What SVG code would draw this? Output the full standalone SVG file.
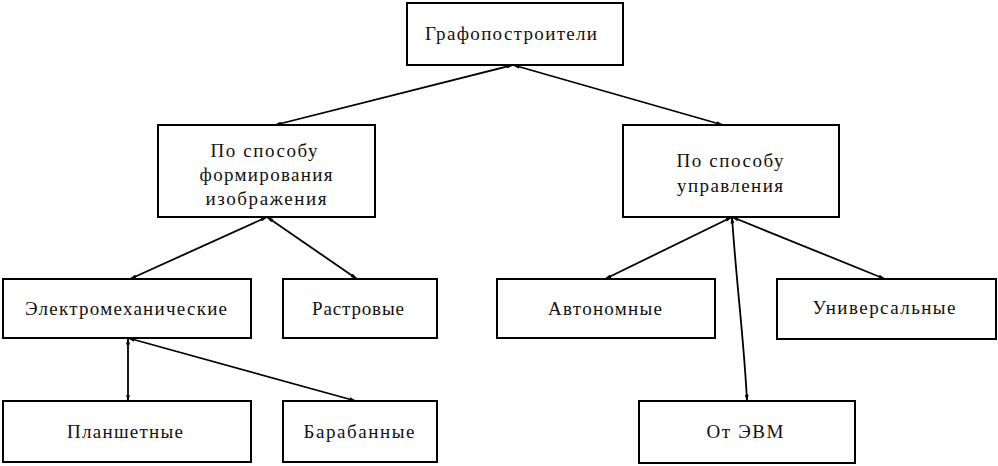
<svg xmlns="http://www.w3.org/2000/svg" width="998" height="466" viewBox="0 0 998 466">
<style>
.box{fill:#fff;stroke:#000;stroke-width:2}
.t{font-size:19px;fill:#111;text-anchor:middle}
.c{fill:none;stroke:#000;stroke-width:1.8;marker-start:url(#ah);marker-end:url(#ah)}
</style>
<defs>
<marker id="ah" markerUnits="userSpaceOnUse" markerWidth="7" markerHeight="4" refX="6.5" refY="2" orient="auto-start-reverse">
<path d="M0,0 L7,2 L0,4 z" fill="#000"/>
</marker>
</defs>
<rect width="998" height="466" fill="#fff"/>
<g id="connectors">
<line class="c" x1="513" y1="65" x2="275" y2="125"/>
<line class="c" x1="513" y1="65" x2="723" y2="125"/>
<line class="c" x1="267" y1="217" x2="130" y2="279"/>
<line class="c" x1="267" y1="217" x2="357" y2="279"/>
<line class="c" x1="732" y1="217" x2="605" y2="279"/>
<line class="c" x1="732" y1="217" x2="885" y2="279"/>
<path class="c" d="M732,217 C737,290 744,340 747,401"/>
<line class="c" x1="128" y1="338" x2="128" y2="401"/>
<line class="c" x1="128" y1="338" x2="356" y2="401"/>
</g>
<g font-family="Liberation Serif, Times New Roman, DejaVu Serif, serif">
<g id="root">
<rect class="box" x="407" y="3" width="216" height="62"/>
<text class="t" x="511" y="40" textLength="172" lengthAdjust="spacing">Графопостроители</text>
</g>
<g id="formation">
<rect class="box" x="158" y="125" width="217" height="92"/>
<text class="t" x="264" y="157" textLength="107" lengthAdjust="spacing">По способу</text>
<text class="t" x="266" y="181" textLength="133" lengthAdjust="spacing">формирования</text>
<text class="t" x="266" y="205" textLength="121" lengthAdjust="spacing">изображения</text>
</g>
<g id="control">
<rect class="box" x="623" y="125" width="216" height="92"/>
<text class="t" x="730" y="167" textLength="107" lengthAdjust="spacing">По способу</text>
<text class="t" x="730" y="192" textLength="106" lengthAdjust="spacing">управления</text>
</g>
<g id="electromech">
<rect class="box" x="3" y="279" width="248" height="59"/>
<text class="t" x="126" y="315" textLength="202" lengthAdjust="spacing">Электромеханические</text>
</g>
<g id="raster">
<rect class="box" x="283" y="279" width="154" height="59"/>
<text class="t" x="358" y="315" textLength="92" lengthAdjust="spacing">Растровые</text>
</g>
<g id="autonomous">
<rect class="box" x="497" y="279" width="218" height="59"/>
<text class="t" x="605" y="315" textLength="114" lengthAdjust="spacing">Автономные</text>
</g>
<g id="universal">
<rect class="box" x="777" y="279" width="219" height="60"/>
<text class="t" x="884" y="314" textLength="143" lengthAdjust="spacing">Универсальные</text>
</g>
<g id="flatbed">
<rect class="box" x="3" y="401" width="248" height="61"/>
<text class="t" x="125" y="438" textLength="116" lengthAdjust="spacing">Планшетные</text>
</g>
<g id="drum">
<rect class="box" x="283" y="401" width="154" height="61"/>
<text class="t" x="359" y="438" textLength="111" lengthAdjust="spacing">Барабанные</text>
</g>
<g id="computer">
<rect class="box" x="639" y="401" width="216" height="62"/>
<text class="t" x="745" y="438" textLength="77" lengthAdjust="spacing">От ЭВМ</text>
</g>
</g>
</svg>
